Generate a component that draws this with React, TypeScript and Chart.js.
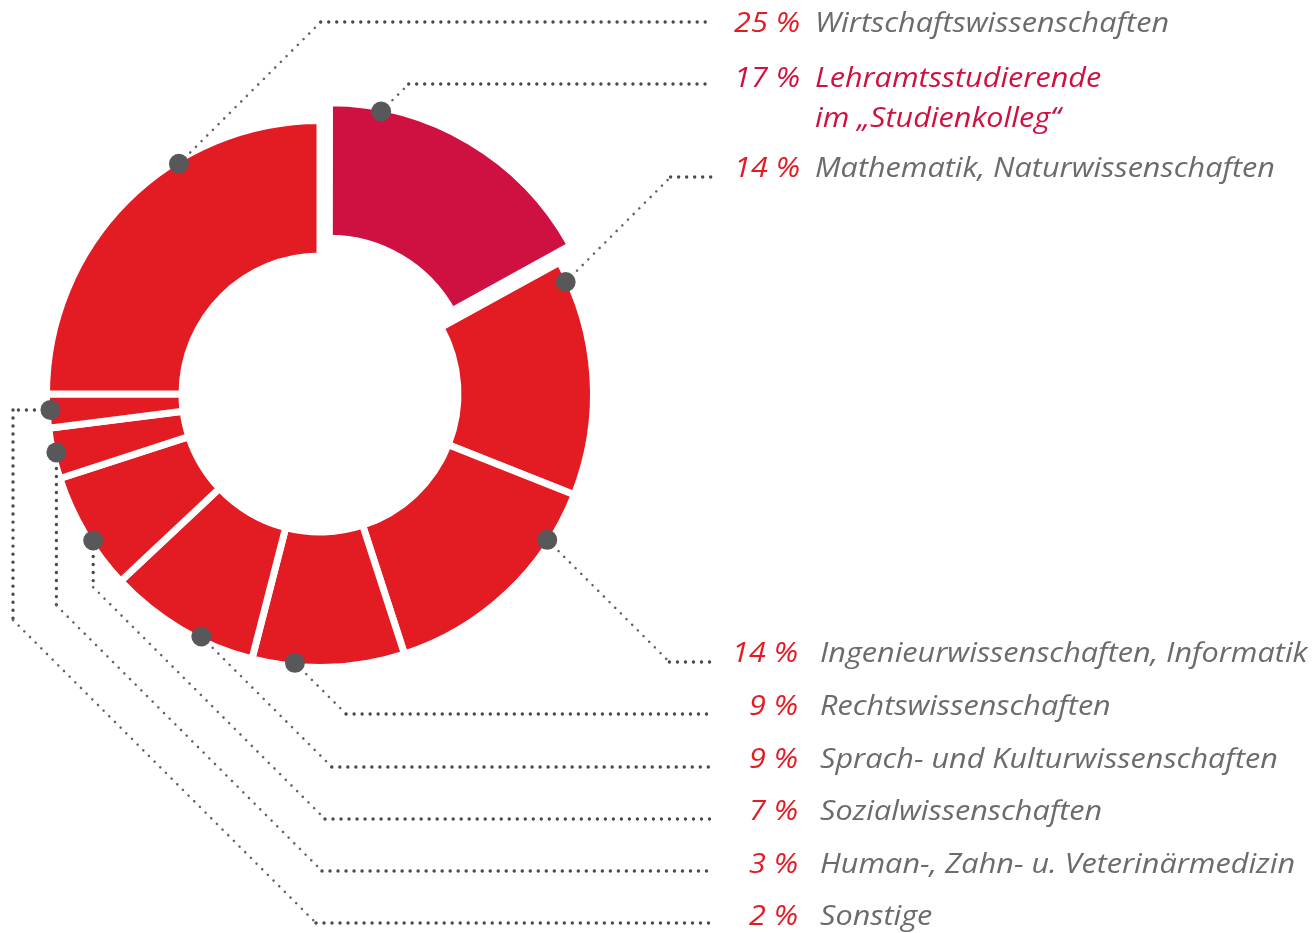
import React, { useEffect, useRef } from "react";
import { Chart, registerables } from "chart.js";

Chart.register(...registerables);

// ---- data ----
const categories: string[][] = [
  ["Lehramtsstudierende", "im „Studienkolleg“"],
  ["Mathematik, Naturwissenschaften"],
  ["Ingenieurwissenschaften, Informatik"],
  ["Rechtswissenschaften"],
  ["Sprach- und Kulturwissenschaften"],
  ["Sozialwissenschaften"],
  ["Human-, Zahn- u. Veterinärmedizin"],
  ["Sonstige"],
  ["Wirtschaftswissenschaften"],
];
const shares: number[] = [17, 14, 14, 9, 9, 7, 3, 2, 25];
const highlighted: boolean[] = [true, false, false, false, false, false, false, false, false];

// ---- styling / layout ----
const W = 1315;
const H = 933;
const CX = 320;
const CY = 394;
const R = 270;
const RIN = 145;
const GAP = 7;
const PULL = 18; // px the highlighted slice is pulled out

const RED = "#E31B23";
const CRIMSON = "#CE1141";
const GREY_TEXT = "#6B6B6E";
const DOT = "#58585A";

// where along each slice the marker sits (0 = start, 1 = end)
const anchorFrac = [0.18, 0.085, 0.22, 0.72, 0.36, 0.41, 0.51, 0.53, 0.65];
const leaderY = [84, 177, 662, 714, 767, 819, 871, 923, 22];
const baselineY = [87, 177, 662, 715, 768, 820, 873, 925, 32];
const laneX: (number | null)[] = [null, null, null, null, null, null, null, 13, null];
const elbowX: (number | null)[] = [null, null, null, null, null, 325, 322, 316, null];
const topGroup = [true, true, false, false, false, false, false, false, true];
const LINE_END = 712;

function dottedSeg(ctx: CanvasRenderingContext2D, a: number[], b: number[], diag: boolean) {
  ctx.save();
  ctx.beginPath();
  ctx.lineCap = "round";
  ctx.lineWidth = diag ? 2.6 : 3.4;
  ctx.strokeStyle = diag ? "#636366" : "#48484B";
  ctx.setLineDash([0.01, 8]);
  ctx.moveTo(a[0], a[1]);
  ctx.lineTo(b[0], b[1]);
  ctx.stroke();
  ctx.restore();
}

const labelPlugin = {
  id: "leaderLabels",
  afterDraw(chart: any) {
    const ctx: CanvasRenderingContext2D = chart.ctx;
    const meta = chart.getDatasetMeta(0);
    const font = 'italic 27px "Open Sans", "DejaVu Sans", sans-serif';
    ctx.save();
    ctx.font = font;
    const sx = 354 / ctx.measureText("Wirtschaftswissenschaften").width;

    meta.data.forEach((arc: any, i: number) => {
      const { x, y, startAngle, endAngle } = arc.getProps(["x", "y", "startAngle", "endAngle"], true);
      const off = (arc.options.offset || 0) / 4;
      const half = (startAngle + endAngle) / 2;
      const ox = x + Math.cos(half) * off;
      const oy = y + Math.sin(half) * off;
      const a = startAngle + anchorFrac[i] * (endAngle - startAngle);
      const rr = R + (off > 0 ? 2 : 0);
      const px = ox + Math.cos(a) * rr;
      const py = oy + Math.sin(a) * rr;

      // route
      const Ly = leaderY[i];
      const pts: number[][] = [[px, py]];
      let lx = px;
      const kinds: boolean[] = [];
      if (laneX[i] != null) {
        lx = laneX[i] as number;
        pts.push([lx, py]);
        kinds.push(false);
      }
      const dir = Ly > py ? 1 : -1;
      const ex = elbowX[i] != null ? (elbowX[i] as number) : lx + Math.abs(Ly - py);
      const vy = Ly - dir * (ex - lx);
      if ((vy - py) * dir > 0.5) {
        pts.push([lx, vy]);
        kinds.push(false);
      }
      pts.push([ex, Ly]);
      kinds.push(true);
      pts.push([LINE_END, Ly]);
      kinds.push(false);
      for (let k = 0; k < pts.length - 1; k++) dottedSeg(ctx, pts[k], pts[k + 1], kinds[k]);

      // marker
      ctx.beginPath();
      ctx.fillStyle = DOT;
      ctx.arc(px, py, 10, 0, Math.PI * 2);
      ctx.fill();

      // labels
      const top = topGroup[i];
      const pctRight = top ? 800 : 798;
      const nameLeft = top ? 815 : 820;
      const base = baselineY[i];
      ctx.font = font;
      ctx.textBaseline = "alphabetic";
      ctx.fillStyle = highlighted[i] ? CRIMSON : RED;
      ctx.save();
      ctx.translate(pctRight, base);
      ctx.scale(sx, 1);
      ctx.textAlign = "right";
      ctx.fillText(`${shares[i]} %`, 0, 0);
      ctx.restore();
      ctx.fillStyle = highlighted[i] ? CRIMSON : GREY_TEXT;
      categories[i].forEach((line, j) => {
        ctx.save();
        ctx.translate(nameLeft, base + j * 40);
        ctx.scale(sx, 1);
        ctx.textAlign = "left";
        ctx.fillText(line, 0, 0);
        ctx.restore();
      });
    });
    ctx.restore();
  },
};

export default function App() {
  const ref = useRef<HTMLCanvasElement | null>(null);
  useEffect(() => {
    document.body.style.margin = "0";
    const canvas = ref.current;
    if (!canvas) return;
    const chart = new Chart(canvas, {
      type: "doughnut",
      data: {
        labels: categories.map((l) => l.join(" ")),
        datasets: [
          {
            data: shares,
            backgroundColor: highlighted.map((h) => (h ? CRIMSON : RED)),
            borderColor: "#FFFFFF",
            borderWidth: GAP,
            borderAlign: "center",
            offset: highlighted.map((h) => (h ? PULL * 4 : 0)),
          } as any,
        ],
      },
      options: {
        responsive: false,
        devicePixelRatio: 1,
        animation: false,
        events: [],
        radius: R + GAP / 2,
        cutout: RIN - GAP / 2,
        layout: { padding: { left: 0, top: 0, right: W - 2 * CX, bottom: H - 2 * CY } },
        plugins: { legend: { display: false }, tooltip: { enabled: false } },
      } as any,
      plugins: [labelPlugin],
    });
    return () => chart.destroy();
  }, []);
  return (
    <div style={{ position: "absolute", left: 0, top: 0, width: W, height: H, background: "#fff" }}>
      <canvas ref={ref} width={W} height={H} />
    </div>
  );
}
